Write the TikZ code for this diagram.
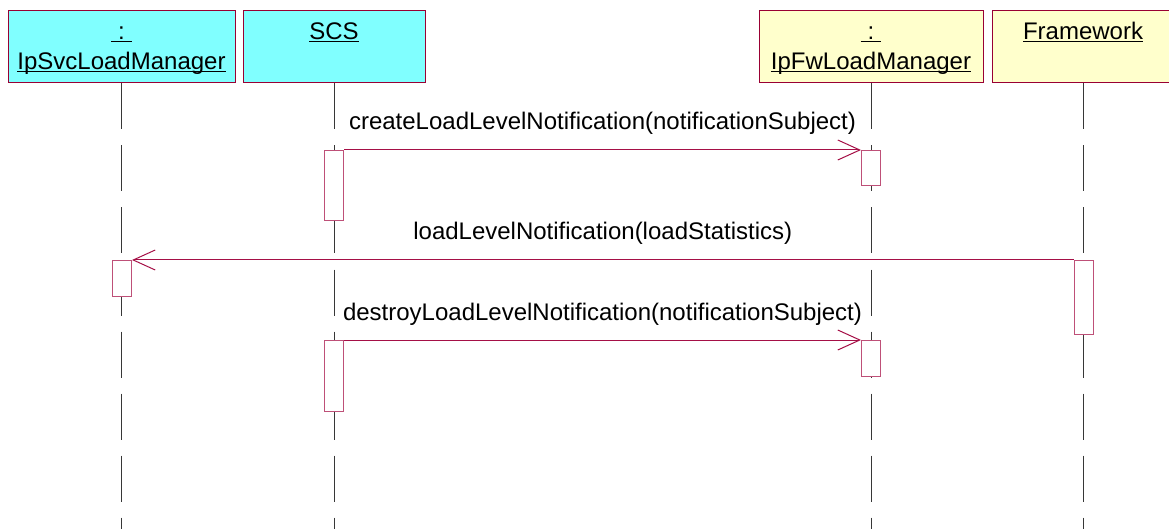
\documentclass[tikz,border=0pt]{standalone}
\usepackage{fontspec}
\setmainfont{Liberation Sans}
\usepackage{tikz}
\usetikzlibrary{arrows.meta,positioning}
\definecolor{headcyan}{RGB}{128,255,255}
\definecolor{headyellow}{RGB}{255,255,204}
\definecolor{boxmaroon}{RGB}{153,0,51}
\definecolor{msgcrimson}{RGB}{165,15,70}
\definecolor{actpink}{RGB}{190,80,120}
\definecolor{lifegrey}{RGB}{55,55,55}
\newcommand{\ulname}[1]{\underline{\smash{#1}}}
\tikzset{
  base/.style={font=\fontsize{24}{28}\selectfont, inner sep=0pt, text=black},
  head/.style={rectangle, draw=boxmaroon, fill=#1, line width=1pt, minimum width=227pt, minimum height=72pt},
  htxt/.style={base, anchor=base},
  life/.style={draw=lifegrey, line width=1pt, dash pattern=on 46pt off 16pt},
  act/.style={rectangle, draw=actpink, fill=white, line width=1pt, minimum width=19pt, anchor=north, inner sep=0pt},
  msg/.style={-{Straight Barb[length=22pt,width=20pt,line width=1pt]}, draw=msgcrimson, line width=1pt},
  mlbl/.style={base, anchor=base, yshift=20pt},
}
\begin{document}
\begin{tikzpicture}[x=1pt,y=-1pt]
  \useasboundingbox (0,0) rectangle (1169,529);
  % object headers
  \node[head=headcyan] (hdrSvc) at (121.5,47) {};
  \node[head=headcyan,minimum width=182pt] (hdrScs) at (334,47) {};
  \node[head=headyellow,minimum width=224pt] (hdrFw) at (871,47) {};
  \node[head=headyellow,minimum width=182pt] (hdrFrm) at (1083,47) {};
  \node[htxt] (tSvcA) at (121.5,40) {\ulname{\hspace{7pt}:\hspace{7pt}}};
  \node[htxt] (tSvcB) at (121.5,70) {\ulname{IpSvcLoadManager}};
  \node[htxt] (tScs) at (334,40) {\ulname{SCS}};
  \node[htxt] (tFwA) at (871,40) {\ulname{\hspace{7pt}:\hspace{7pt}}};
  \node[htxt] (tFwB) at (871,70) {\ulname{IpFwLoadManager}};
  \node[htxt] (tFrm) at (1083,40) {\ulname{Framework}};
  % lifelines
  \foreach \h in {hdrSvc,hdrScs,hdrFw,hdrFrm}{\draw[life] (\h.south) -- ++(0,446);}
  % activations
  \node[act,minimum height=70pt] (actScsA) at (334,150) {};
  \node[act,minimum height=35pt] (actFwA) at (871,150) {};
  \node[act,minimum height=74pt] (actFrm) at (1083.5,260) {};
  \node[act,minimum height=36pt] (actSvc) at (122,260) {};
  \node[act,minimum height=71pt] (actScsB) at (334,340) {};
  \node[act,minimum height=36pt] (actFwB) at (871,340) {};
  % messages
  \draw[msg] (actScsA.north east) -- (actFwA.north west) node[midway,mlbl]{createLoadLevelNotification(notificationSubject)};
  \draw[msg] (actFrm.north west) -- (actSvc.north east) node[midway,mlbl]{loadLevelNotification(loadStatistics)};
  \draw[msg] (actScsB.north east) -- (actFwB.north west) node[midway,mlbl]{destroyLoadLevelNotification(notificationSubject)};
\end{tikzpicture}
\end{document}
